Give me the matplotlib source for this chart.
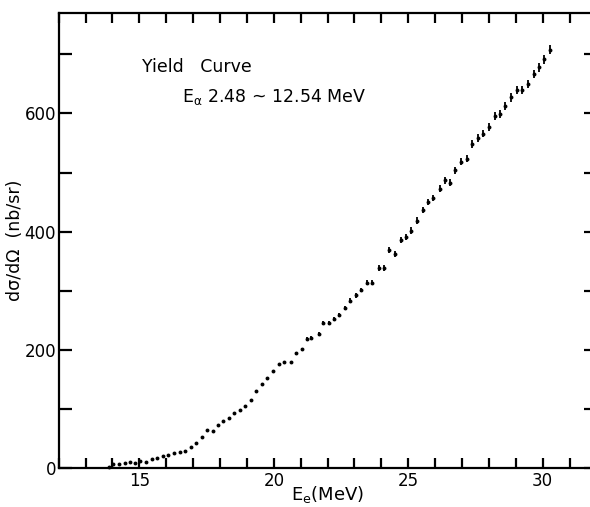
import matplotlib
matplotlib.use("Agg")
import matplotlib.pyplot as plt
from matplotlib.ticker import MultipleLocator, FixedLocator

plt.rcParams['font.family'] = ['DejaVu Sans']

# Electron energy (MeV)
energy = [13.87, 14.03, 14.25, 14.45, 14.64, 14.84, 15.03, 15.24, 15.46, 15.67,
          15.87, 16.08, 16.29, 16.51, 16.71, 16.92, 17.11, 17.32, 17.53, 17.73,
          17.92, 18.12, 18.32, 18.53, 18.74, 18.94, 19.14, 19.34, 19.56, 19.76,
          19.97, 20.19, 20.38, 20.63, 20.84, 21.05, 21.25, 21.39, 21.67, 21.84,
          22.04, 22.25, 22.44, 22.65, 22.83, 23.05, 23.25, 23.48, 23.65, 23.90,
          24.09, 24.29, 24.52, 24.72, 24.92, 25.11, 25.32, 25.54, 25.73, 25.93,
          26.17, 26.37, 26.56, 26.75, 26.96, 27.17, 27.38, 27.58, 27.79, 28.00,
          28.21, 28.41, 28.61, 28.82, 29.04, 29.24, 29.44, 29.66, 29.85, 30.05,
          30.26]

# Cross section (nb/sr)
xsec = [2, 6, 7, 9, 10, 8.5, 12, 11, 15, 17,
        20, 22.5, 26, 27.5, 29, 36, 43, 52, 64, 62,
        73, 79, 85, 92.5, 98, 105, 115, 131, 142, 153,
        164, 175.5, 179, 180, 194.5, 201, 218, 220.5, 227, 245,
        245, 251.5, 259.5, 271, 283, 292.5, 301, 313.5, 313.5, 339,
        338, 369, 362, 386, 390.5, 401.5, 418.5, 436.5, 450, 456.5,
        472.5, 487, 482.5, 503.5, 518, 523, 548, 559, 566, 577,
        595.5, 599, 612.5, 627, 639.5, 639.5, 649.5, 666.5, 678, 691.5,
        707.5]

# Error (nb/sr)
xsec_err = [0, 0, 0, 0, 0, 0, 0, 0, 0, 0,
            0, 0, 0, 0, 0, 0, 0, 0, 0, 0,
            0, 0, 0, 0, 0, 0, 0, 0, 0, 0,
            0, 0, 0, 0, 2.5, 2.5, 3, 3, 3, 3.5,
            3.5, 3.5, 3.5, 4, 4, 4, 4, 4.5, 4.5, 5,
            5, 5, 5, 5, 5, 5.5, 5.5, 5.5, 5.5, 5.5,
            6, 6, 6, 6, 6, 6, 6.5, 6.5, 6.5, 6.5,
            6.5, 6.5, 7, 7, 7, 7, 7, 7, 7.5, 7.5,
            7.5]

x_major = [15, 20, 25, 30]
y_major = [0, 200, 400, 600]

fig = plt.figure(figsize=(5.9, 5.07), dpi=100)
ax = fig.add_axes([0.0995, 0.0769, 0.9115, 0.8975])

ax.errorbar(energy, xsec, yerr=xsec_err, fmt='o', color='black', ms=2.8,
            elinewidth=1.3, capsize=0, mew=0, clip_on=False)

ax.set_xlim(12, 32)
ax.set_ylim(0, 770)

ax.xaxis.set_major_locator(FixedLocator(x_major))
ax.xaxis.set_minor_locator(MultipleLocator(1))
ax.yaxis.set_major_locator(FixedLocator(y_major))
ax.yaxis.set_minor_locator(MultipleLocator(100))

for s in ax.spines.values():
    s.set_linewidth(1.6)

ax.tick_params(which='both', direction='in', top=True, right=True,
               width=1.6, length=7, labelsize=12, pad=3)
ax.tick_params(axis='y', which='both', length=9)
ax.tick_params(axis='y', which='major', pad=2)

ax.set_xlabel(r'E$_{\mathregular{e}}$(MeV)', fontsize=13)
ax.xaxis.set_label_coords(0.50, -0.035)
ax.set_ylabel('d\u03c3/d\u03a9  (nb/sr)', fontsize=12.5)
ax.yaxis.set_label_coords(-0.064, 0.5)

ax.text(15.1, 678, 'Yield   Curve', fontsize=12.5, va='center', ha='left')
ax.text(16.6, 628, r'E$_{\mathregular{\alpha}}$ 2.48 ~ 12.54 MeV', fontsize=12.5,
        va='center', ha='left')

fig.savefig('out.png', dpi=100)
